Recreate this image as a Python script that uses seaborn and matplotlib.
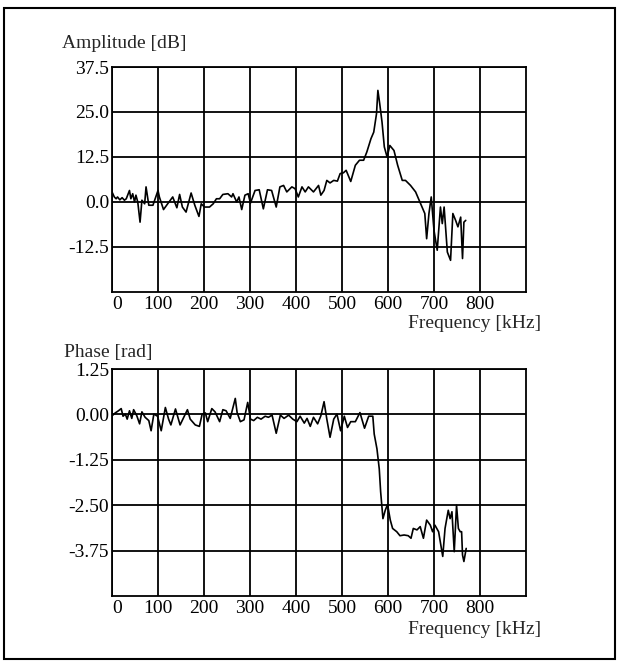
import numpy as np
import pandas as pd
import matplotlib
matplotlib.use("Agg")
import matplotlib.pyplot as plt
import seaborn as sns
from matplotlib.patches import Rectangle

# ---------------- data ----------------
amp_freq = [0, 5, 9, 12, 17, 22, 27, 31, 38, 41, 45, 49, 52, 56, 61, 65, 71, 74, 80, 89,
            100, 103, 112, 121, 132, 141, 147, 153, 161, 172, 180, 189, 194, 201, 212, 220,
            227, 234, 241, 252, 260, 263, 271, 276, 282, 289, 296, 301, 311, 320, 329, 338,
            347, 357, 365, 373, 380, 391, 398, 405, 413, 420, 427, 438, 449, 454, 461, 467,
            474, 482, 490, 496, 503, 509, 519, 529, 538, 547, 554, 563, 569, 575, 578, 582,
            587, 592, 598, 604, 613, 621, 631, 638, 649, 660, 671, 680, 684, 689, 694, 700,
            707, 714, 718, 722, 729, 736, 741, 747, 752, 758, 762, 765, 769]
amp_db = [2.8, 1.4, 0.9, 1.4, 0.6, 1.2, 0.5, 0.9, 3.2, 0.9, 2.3, 0.0, 1.9, 0.0, -5.6, 0.5,
          -0.5, 4.2, -0.9, -0.9, 3.2, 1.4, -2.1, -0.5, 1.4, -1.6, 2.1, -1.4, -2.8, 2.5, -0.9,
          -4.0, -0.5, -1.4, -1.4, -0.5, 0.9, 0.9, 2.1, 2.3, 1.4, 2.3, 0.0, 1.4, -2.1, 1.9, 2.3,
          -0.3, 3.2, 3.4, -1.9, 3.4, 3.2, -1.4, 4.2, 4.6, 2.8, 4.2, 3.7, 1.4, 4.2, 2.8, 4.2,
          2.8, 4.6, 1.9, 3.2, 6.0, 5.3, 6.0, 5.8, 7.9, 8.1, 8.8, 5.7, 10.2, 11.6, 11.6, 13.9,
          17.6, 19.4, 24.5, 31.0, 27.3, 22.2, 15.3, 12.5, 15.7, 14.3, 10.2, 6.0, 6.0, 4.6,
          2.8, -0.5, -3.2, -10.2, -3.2, 1.4, -7.9, -13.4, -1.4, -6.0, -1.4, -13.9, -16.2,
          -3.2, -5.1, -6.9, -4.2, -15.7, -5.6, -5.1]

ph_freq = [0, 7, 14, 20, 24, 29, 33, 38, 43, 47, 54, 60, 65, 72, 80, 85, 91, 99, 107, 116,
           123, 128, 138, 148, 156, 164, 170, 181, 190, 196, 203, 208, 217, 224, 234, 241,
           248, 257, 268, 272, 279, 287, 295, 301, 308, 316, 324, 333, 340, 348, 357, 366,
           374, 384, 393, 402, 409, 418, 424, 431, 438, 447, 454, 461, 467, 474, 482, 489,
           497, 505, 512, 519, 529, 539, 549, 558, 567, 570, 576, 581, 584, 589, 594, 599,
           605, 610, 619, 626, 635, 644, 650, 655, 663, 670, 677, 684, 692, 697, 702, 710,
           719, 724, 731, 735, 739, 744, 749, 753, 757, 760, 762, 765, 770]
ph_rad = [-0.04, 0.04, 0.10, 0.16, -0.05, 0.01, -0.13, 0.10, -0.11, 0.13, -0.04, -0.26,
          0.07, -0.08, -0.17, -0.45, 0.01, -0.05, -0.45, 0.19, -0.13, -0.29, 0.15, -0.29,
          -0.08, 0.13, -0.13, -0.29, -0.33, 0.01, 0.04, -0.20, 0.16, 0.07, -0.20, 0.13, 0.10,
          -0.11, 0.44, 0.05, -0.20, -0.15, 0.33, -0.13, -0.17, -0.08, -0.13, -0.05, -0.08,
          -0.02, -0.52, -0.02, -0.11, -0.02, -0.13, -0.20, -0.05, -0.24, -0.11, -0.33, -0.08,
          -0.26, -0.04, 0.35, -0.13, -0.63, -0.13, 0.01, -0.45, -0.05, -0.36, -0.20, -0.20,
          0.05, -0.38, -0.05, -0.05, -0.54, -0.95, -1.50, -2.13, -2.87, -2.64, -2.48, -2.91,
          -3.14, -3.23, -3.34, -3.32, -3.34, -3.41, -3.14, -3.18, -3.09, -3.41, -2.91, -3.05,
          -3.23, -3.05, -3.23, -3.91, -3.14, -2.64, -2.87, -2.68, -3.78, -2.50, -3.14, -3.23,
          -3.23, -3.87, -4.05, -3.69]

x_ticks = [0, 100, 200, 300, 400, 500, 600, 700, 800]
amp_ticks = [-12.5, 0.0, 12.5, 25.0, 37.5]
amp_labels = ["-12.5", "0.0", "12.5", "25.0", "37.5"]
ph_ticks = [-3.75, -2.5, -1.25, 0.0, 1.25]
ph_labels = ["-3.75", "-2.50", "-1.25", "0.00", "1.25"]

# ---------------- styling ----------------
sns.set_style("white")
plt.rcParams["font.family"] = ["Liberation Serif", "DejaVu Serif"]
plt.rcParams["font.size"] = 14

W, H = 620, 664
fig = plt.figure(figsize=(W / 100, H / 100), dpi=100)


def fx(px):
    return px / W


def fy(py):
    return 1 - py / H


ax1 = fig.add_axes([fx(112), fy(292), fx(526) - fx(112), fy(67) - fy(292)])
ax2 = fig.add_axes([fx(112), fy(596), fx(526) - fx(112), fy(369) - fy(596)])

df_amp = pd.DataFrame({"f": amp_freq, "v": amp_db})
df_ph = pd.DataFrame({"f": ph_freq, "v": ph_rad})

sns.lineplot(data=df_amp, x="f", y="v", ax=ax1, color="black", linewidth=1.2,
             estimator=None, sort=False)
sns.lineplot(data=df_ph, x="f", y="v", ax=ax2, color="black", linewidth=1.2,
             estimator=None, sort=False)

for ax, ylim, yt, yl in [(ax1, (-25, 37.5), amp_ticks, amp_labels),
                         (ax2, (-5.0, 1.25), ph_ticks, ph_labels)]:
    ax.set_xlim(0, 900)
    ax.set_ylim(*ylim)
    ax.set_xticks(x_ticks)
    ax.set_xticklabels([str(t) for t in x_ticks])
    ax.set_yticks(yt)
    ax.set_yticklabels(yl)
    ax.set_xlabel("")
    ax.set_ylabel("")
    ax.tick_params(axis="both", length=0, labelsize=14, colors="black")
    ax.tick_params(axis="x", pad=3)
    ax.tick_params(axis="y", pad=2)
    ax.grid(True, color="black", linewidth=1.3)
    for s in ax.spines.values():
        s.set_visible(True)
        s.set_color("black")
        s.set_linewidth(1.3)
    lbls = ax.get_xticklabels()
    lbls[0].set_horizontalalignment("left")

fig.text(fx(62), fy(48), "Amplitude [dB]", fontsize=14, ha="left", va="baseline")
fig.text(fx(64), fy(357), "Phase [rad]", fontsize=14, ha="left", va="baseline")
fig.text(fx(541), fy(328), "Frequency [kHz]", fontsize=14, ha="right", va="baseline")
fig.text(fx(541), fy(634), "Frequency [kHz]", fontsize=14, ha="right", va="baseline")

fig.patches.append(Rectangle((fx(4), fy(659)), fx(615) - fx(4), fy(8) - fy(659),
                             transform=fig.transFigure, fill=False,
                             edgecolor="black", linewidth=1.5))

fig.savefig("out.png", dpi=100)
